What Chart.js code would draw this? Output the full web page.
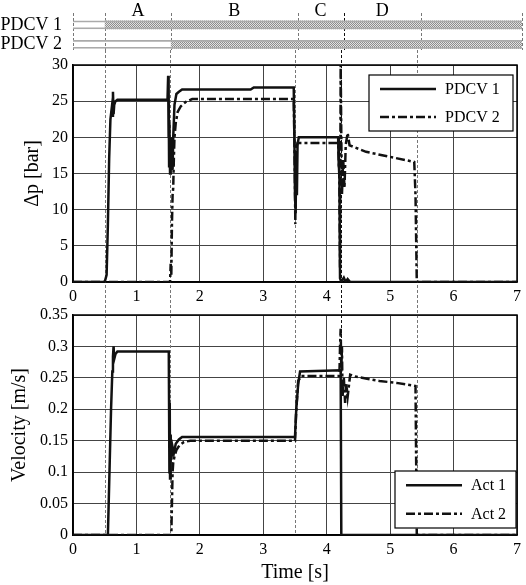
<!DOCTYPE html>
<html>
<head>
<meta charset="utf-8">
<script src="https://cdn.jsdelivr.net/npm/chart.js@4.4.0/dist/chart.umd.min.js"></script>
<style>
body{margin:0;background:#fff;}
.box{position:absolute;left:0;width:526px;}
</style>
</head>
<body>
<div class="box" style="top:0;height:68px"><canvas id="band"></canvas></div>
<div class="box" style="top:50px;height:260px"><canvas id="dp"></canvas></div>
<div class="box" style="top:300px;height:285px"><canvas id="vel"></canvas></div>
<script>
// phases and valve states
var phaseTimes = [0, 0.5, 1.53, 3.5, 4.22, 5.42, 7];
var phaseNames = ['A', 'B', 'C', 'D'];
var valveNames = ['PDCV 1', 'PDCV 2'];
var valveOn = [0.5, 1.53];
var valveOff = [7, 7];

// pressure difference [bar]
var pdcv1Time = [0, 0.5, 0.53, 0.55, 0.57, 0.59, 0.61, 0.62, 0.63, 0.64, 0.65, 0.67, 0.7, 1.49, 1.5, 1.505, 1.51, 1.515, 1.52, 1.53, 1.54, 1.55, 1.56, 1.57, 1.58, 1.6, 1.63, 1.67, 1.72, 2.8, 2.85, 3.48, 3.49, 3.5, 3.51, 3.52, 3.53, 3.54, 3.56, 4.18, 4.19, 4.2, 4.21, 4.23, 4.27, 4.3, 4.33, 4.37, 7];
var pdcv1Dp   = [0, 0, 1, 8, 17, 22.5, 24, 23, 26.3, 23.2, 24.5, 25, 25.2, 25.2, 28.5, 20, 27, 16, 22, 15, 20, 16, 19, 15.5, 20, 24.5, 26, 26.3, 26.6, 26.6, 26.9, 26.9, 20, 12, 9.5, 18, 12, 19, 20, 20, 16, 15.2, 0.5, 0, 0.6, 0, 0.4, 0, 0];
var pdcv2Time = [0, 1.53, 1.54, 1.55, 1.56, 1.57, 1.58, 1.59, 1.6, 1.62, 1.65, 1.7, 1.78, 1.88, 3.48, 3.49, 3.5, 3.505, 3.51, 3.52, 3.54, 4.18, 4.19, 4.2, 4.21, 4.22, 4.23, 4.24, 4.26, 4.28, 4.3, 4.33, 4.36, 4.62, 5.0, 5.38, 5.4, 5.42, 7];
var pdcv2Dp   = [0, 0, 2.5, 1, 8, 12, 13, 17, 20, 22, 23.5, 24.3, 24.9, 25.3, 25.3, 20, 13, 8, 15, 18.5, 19.2, 19.2, 17, 14, 2, 30, 20, 12, 17, 13, 19, 20.6, 18.9, 18, 17.3, 16.6, 12, 0, 0];

// actuator velocity [m/s]
var act1Time = [0, 0.55, 0.56, 0.58, 0.6, 0.62, 0.63, 0.64, 0.65, 0.67, 0.7, 1.51, 1.52, 1.525, 1.53, 1.54, 1.55, 1.57, 1.59, 1.62, 1.67, 1.72, 3.5, 3.52, 3.55, 3.58, 4.22, 4.23, 7];
var act1Vel  = [0, 0, 0.04, 0.12, 0.2, 0.26, 0.284, 0.3, 0.28, 0.288, 0.292, 0.292, 0.1, 0.21, 0.09, 0.16, 0.12, 0.14, 0.13, 0.145, 0.152, 0.156, 0.156, 0.2, 0.24, 0.26, 0.262, 0, 0];
var act2Time = [0, 1.55, 1.56, 1.57, 1.58, 1.6, 1.63, 1.68, 1.75, 1.85, 3.5, 3.52, 3.55, 3.6, 4.2, 4.21, 4.22, 4.23, 4.24, 4.25, 4.27, 4.29, 4.31, 4.33, 4.37, 4.45, 4.83, 5.1, 5.4, 5.42, 7];
var act2Vel  = [0, 0, 0.05, 0.1, 0.115, 0.125, 0.135, 0.143, 0.148, 0.15, 0.15, 0.2, 0.245, 0.253, 0.253, 0.3, 0.328, 0.26, 0.3, 0.22, 0.25, 0.21, 0.24, 0.22, 0.255, 0.252, 0.245, 0.242, 0.237, 0, 0];

var FONT = 'Liberation Serif';
Chart.defaults.font.family = FONT;
Chart.defaults.color = '#000';
Chart.defaults.animation = false;

function f(size) { return {family: FONT, size: size}; }

function pts(t, v) {
	return t.map(function(x, i){ return {x: x, y: v[i]}; });
}

// dashed phase lines, drawn through the scale of each chart
var phasePlugin = {
	id: 'phaseLines',
	beforeDatasetsDraw: function(chart, args, o) {
		var xs = chart.scales.x, ctx = chart.ctx;
		var y1 = o.bottom != null ? o.bottom : (o.toArea ? chart.chartArea.bottom : chart.height);
		ctx.save();
		ctx.lineWidth = 1;
		ctx.setLineDash([3, 2]);
		phaseTimes.forEach(function(t, i){
			if (!o.edges && (i == 0 || i == phaseTimes.length - 1)) return;
			var px = Math.round(xs.getPixelForValue(t)) + 0.5;
			ctx.strokeStyle = (i == 4) ? '#111' : '#777';
			ctx.beginPath();
			ctx.moveTo(px, o.top);
			ctx.lineTo(px, y1);
			ctx.stroke();
		});
		ctx.restore();
	}
};

var framePlugin = {
	id: 'frame',
	beforeDatasetsDraw: function(chart) {
		var a = chart.chartArea, ctx = chart.ctx;
		ctx.save();
		ctx.strokeStyle = '#000';
		ctx.lineWidth = 1.5;
		ctx.strokeRect(a.left, a.top, a.right - a.left, a.bottom - a.top);
		ctx.restore();
	}
};

var legendPlugin = {
	id: 'boxLegend',
	afterDatasetsDraw: function(chart, args, o) {
		var a = chart.chartArea, ctx = chart.ctx;
		var left = a.right - o.right - o.w;
		var top = (o.top != null) ? a.top + o.top : a.bottom - o.bottom - o.h;
		ctx.save();
		ctx.fillStyle = '#fff';
		ctx.fillRect(left, top, o.w, o.h);
		ctx.strokeStyle = '#000';
		ctx.lineWidth = 1.2;
		ctx.strokeRect(left, top, o.w, o.h);
		chart.data.datasets.forEach(function(ds, i){
			var y = top + o.h * (2 * i + 1) / 4;
			ctx.strokeStyle = ds.borderColor;
			ctx.lineWidth = ds.borderWidth;
			ctx.setLineDash(ds.borderDash || []);
			ctx.beginPath();
			ctx.moveTo(left + 11, y);
			ctx.lineTo(left + 67, y);
			ctx.stroke();
			ctx.setLineDash([]);
			ctx.fillStyle = '#000';
			ctx.font = '16px "' + FONT + '"';
			ctx.textBaseline = 'middle';
			ctx.fillText(ds.label, left + 76, y + 1);
		});
		ctx.restore();
	}
};

var phaseLabelPlugin = {
	id: 'phaseLabels',
	afterDraw: function(chart) {
		var xs = chart.scales.x, ctx = chart.ctx;
		ctx.save();
		ctx.fillStyle = '#000';
		ctx.font = '18px "' + FONT + '"';
		ctx.textAlign = 'center';
		ctx.textBaseline = 'middle';
		phaseNames.forEach(function(n, i){
			var mid = (phaseTimes[i + 1] + phaseTimes[i + 2]) / 2;
			ctx.fillText(n, xs.getPixelForValue(mid), 11);
		});
		ctx.restore();
	}
};

// stippled fill for the "on" bands
function stipple() {
	var c = document.createElement('canvas');
	c.width = 2; c.height = 2;
	var g = c.getContext('2d');
	g.fillStyle = '#e2e2e2'; g.fillRect(0, 0, 2, 2);
	g.fillStyle = '#8c8c8c'; g.fillRect(0, 0, 1, 1); g.fillRect(1, 1, 1, 1);
	return g.createPattern(c, 'repeat');
}

function fixWidth(w) { return function(s){ s.width = w; }; }
function fixHeight(h) { return function(s){ s.height = h; }; }

new Chart(document.getElementById('band'), {
	type: 'bar',
	data: {
		labels: valveNames,
		datasets: [{
			data: valveNames.map(function(){ return [0, 7]; }),
			backgroundColor: 'rgba(0,0,0,0)',
			borderColor: '#aaa',
			borderWidth: {top: 1, bottom: 1, left: 0, right: 0},
			borderSkipped: false,
			barThickness: 8,
			grouped: false
		}, {
			data: valveOn.map(function(t, i){ return [t, valveOff[i]]; }),
			backgroundColor: stipple(),
			borderWidth: 0,
			barThickness: 8,
			grouped: false
		}]
	},
	options: {
		indexAxis: 'y',
		responsive: true,
		maintainAspectRatio: false,
		layout: {padding: {top: 15, bottom: 2, right: 4, left: 0}},
		plugins: {
			legend: {display: false},
			tooltip: {enabled: false},
			phaseLines: {top: 13, bottom: 50, edges: true}
		},
		scales: {
			x: {type: 'linear', min: 0, max: 7, display: false},
			y: {
				grid: {display: false},
				border: {display: false},
				ticks: {font: f(18), padding: 3, color: '#000', autoSkip: false},
				afterFit: fixWidth(73)
			}
		}
	},
	plugins: [phasePlugin, phaseLabelPlugin]
});

function lineDs(label, t, v, dash) {
	return {
		label: label,
		data: pts(t, v),
		borderColor: '#111',
		borderWidth: 2.5,
		borderDash: dash,
		pointRadius: 0,
		tension: 0,
		fill: false
	};
}

function xAxis(h, title) {
	return {
		type: 'linear', min: 0, max: 7,
		ticks: {stepSize: 1, font: f(16), padding: 5, color: '#000'},
		grid: {color: '#444', lineWidth: 1, drawTicks: false},
		border: {color: '#000', width: 1.5},
		title: title ? {display: true, text: title, font: f(20), color: '#000', padding: {top: 0, bottom: 0}} : {display: false},
		afterFit: fixHeight(h)
	};
}

new Chart(document.getElementById('dp'), {
	type: 'line',
	data: {
		datasets: [
			lineDs('PDCV 1', pdcv1Time, pdcv1Dp, []),
			lineDs('PDCV 2', pdcv2Time, pdcv2Dp, [9, 3, 3, 3])
		]
	},
	options: {
		responsive: true,
		maintainAspectRatio: false,
		layout: {padding: {top: 15, right: 4, left: 0, bottom: 0}},
		plugins: {
			legend: {display: false},
			tooltip: {enabled: false},
			phaseLines: {top: 0, toArea: false, edges: false},
			boxLegend: {right: 4, top: 10, w: 144, h: 56}
		},
		scales: {
			x: xAxis(28, null),
			y: {
				min: 0, max: 30,
				ticks: {stepSize: 5, font: f(16), padding: 5, color: '#000'},
				grid: {color: '#444', lineWidth: 1, drawTicks: false},
				border: {color: '#000', width: 1.5},
				title: {display: true, text: 'Δp [bar]', font: f(20), color: '#000', padding: {top: 21, bottom: 0}},
				afterFit: fixWidth(73)
			}
		}
	},
	plugins: [phasePlugin, framePlugin, legendPlugin]
});

new Chart(document.getElementById('vel'), {
	type: 'line',
	data: {
		datasets: [
			lineDs('Act 1', act1Time, act1Vel, []),
			lineDs('Act 2', act2Time, act2Vel, [9, 3, 3, 3])
		]
	},
	options: {
		responsive: true,
		maintainAspectRatio: false,
		layout: {padding: {top: 15, right: 4, left: 0, bottom: 0}},
		plugins: {
			legend: {display: false},
			tooltip: {enabled: false},
			phaseLines: {top: 0, toArea: true, edges: false},
			boxLegend: {right: 1, bottom: 7, w: 121, h: 57}
		},
		scales: {
			x: xAxis(50, 'Time [s]'),
			y: {
				min: 0, max: 0.35,
				ticks: {
					stepSize: 0.05, font: f(16), padding: 5, color: '#000',
					callback: function(v){ return String(+v.toFixed(2)); }
				},
				grid: {color: '#444', lineWidth: 1, drawTicks: false},
				border: {color: '#000', width: 1.5},
				title: {display: true, text: 'Velocity [m/s]', font: f(20), color: '#000', padding: {top: 8, bottom: 0}},
				afterFit: fixWidth(73)
			}
		}
	},
	plugins: [phasePlugin, framePlugin, legendPlugin]
});
</script>
</body>
</html>
